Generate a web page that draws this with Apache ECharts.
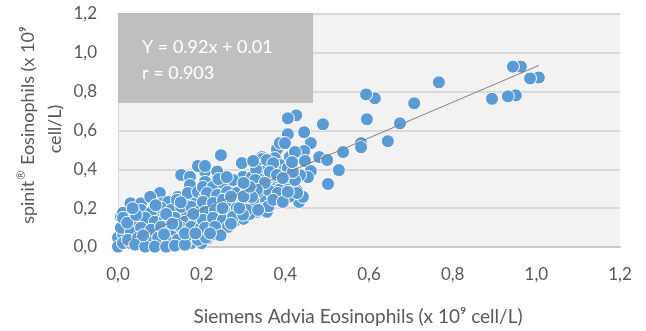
<!DOCTYPE html>
<html>
<head>
<meta charset="utf-8">
<script src="https://cdn.jsdelivr.net/npm/echarts@6/dist/echarts.min.js"></script>
<style>
html,body{margin:0;padding:0;background:#fff;}
#c{width:646px;height:331px;}
</style>
</head>
<body>
<div id="c"></div>
<script>
// Siemens Advia eosinophils (x) vs spinit eosinophils (y), x 10^9 cell/L
const adviaX = [
1.006,0.985,0.963,0.944,0.951,0.932,0.894,0.767,0.708,0.674,0.645,0.614,0.593,0.595,0.581,0.581,0.538,0.528,0.502,0.490,
0.461,0.445,0.426,0.406,0.406,0.392,0.380,0.445,0.481,0.500,0.447,0.461,0.454,0.435,0.406,0.428,0.433,0.442,0.409,0.385,
0.382,0.335,0.351,0.328,0.332,0.356,0.387,0.399,0.375,0.411,0.246,0.296,0.344,0.208,0.237,0.299,0.363,0.387,0.213,0.151,
0.172,0.191,0.208,0.100,0.076,0.007,0.000,0.000,
0.012,0.036,0.085,0.135,0.210,0.020,0.043,0.067,0.090,0.165,0.190,0.215,0.240,0.025,0.067,0.090,0.140,0.165,0.190,0.225,
0.030,0.055,0.090,0.105,0.130,0.165,0.185,0.225,0.245,0.012,0.030,0.055,0.080,0.105,0.130,0.150,0.175,0.200,
0.225,0.240,0.255,0.280,0.290,0.265,0.240,0.220,0.245,0.270,0.295,0.310,0.285,0.260,0.235,0.220,0.310,0.330,0.345,0.370,
0.390,0.410,0.360,0.320,0.300,0.315,0.340,0.365,0.390,0.410,0.345,0.370,0.395,0.320,0.350,0.330,
0.172,0.208,0.077,0.120,0.143,0.167,0.191,0.208,0.012,0.055,0.079,0.103,0.127,0.151,0.175,0.198,0.031,0.065,0.088,0.112,
0.136,0.160,0.184,0.208,0.007,0.031,0.055,0.079,0.103,0.127,0.151,0.175,0.198,0.024,0.048,0.072,0.096,0.120,0.143,0.167,
0.191,0.210,0.041,0.065,0.088,0.115,0.136,0.160,0.012,0.022,0.141,0.268,0.261,
0.423,0.203,0.227,0.251,0.275,0.332,0.356,0.380,0.404,0.423,0.418,0.213,0.237,0.261,0.284,0.308,0.335,0.359,0.382,0.428,
0.203,0.227,0.251,0.275,0.299,0.323,0.371,0.394,0.208,0.232,0.256,0.284,0.308,0.335,0.203,0.227,0.251,0.275,0.299,0.208,
0.232,0.263,
0.344,0.356,0.371,0.363,0.380,0.406,0.418,0.328,0.351,0.406,0.332,0.320,0.394,0.416,0.323,
0.043,0.090,0.115,0.140,0.060,0.110,0.160,0.185,0.035,0.130,0.180,0.150,0.245,0.220,0.250,0.270,0.290,0.300,0.315,0.270,
0.240,0.260,0.300
];
const spinitY = [
0.873,0.868,0.929,0.929,0.781,0.776,0.763,0.848,0.740,0.637,0.545,0.766,0.786,0.658,0.535,0.514,0.489,0.396,0.325,0.632,
0.535,0.591,0.678,0.663,0.581,0.535,0.504,0.494,0.463,0.448,0.443,0.391,0.360,0.370,0.294,0.289,0.232,0.258,0.463,0.417,
0.309,0.345,0.232,0.243,0.181,0.181,0.535,0.535,0.458,0.463,0.473,0.432,0.463,0.389,0.389,0.361,0.412,0.422,0.043,0.371,
0.361,0.417,0.417,0.278,0.258,0.155,0.048,0.002,
0.065,0.065,0.065,0.065,0.065,0.117,0.117,0.117,0.117,0.117,0.117,0.117,0.117,0.165,0.165,0.165,0.165,0.165,0.165,0.165,
0.225,0.225,0.225,0.225,0.225,0.225,0.225,0.225,0.225,0.020,0.020,0.020,0.020,0.020,0.020,0.020,0.020,0.020,
0.065,0.085,0.125,0.135,0.175,0.165,0.170,0.210,0.215,0.215,0.215,0.230,0.255,0.260,0.250,0.245,0.265,0.215,0.260,0.270,
0.255,0.260,0.210,0.210,0.145,0.170,0.310,0.320,0.330,0.320,0.375,0.350,0.390,0.360,0.410,0.400,
0.319,0.335,0.258,0.232,0.258,0.278,0.284,0.258,0.176,0.191,0.176,0.202,0.191,0.207,0.207,0.191,0.130,0.150,0.130,0.140,
0.150,0.130,0.140,0.155,0.099,0.078,0.099,0.089,0.104,0.089,0.099,0.104,0.099,0.037,0.048,0.027,0.048,0.027,0.037,0.037,
0.037,0.048,0.012,0.002,0.002,0.002,0.007,0.012,0.150,0.125,0.243,0.309,0.104,
0.489,0.309,0.309,0.330,0.345,0.330,0.345,0.361,0.361,0.345,0.396,0.278,0.268,0.284,0.278,0.294,0.284,0.294,0.278,0.278,
0.232,0.227,0.243,0.232,0.232,0.243,0.243,0.232,0.181,0.191,0.181,0.202,0.191,0.191,0.140,0.150,0.140,0.155,0.166,0.099,
0.104,0.104,
0.453,0.448,0.432,0.386,0.371,0.407,0.386,0.345,0.330,0.284,0.294,0.258,0.355,0.437,0.443,
0.165,0.215,0.170,0.115,0.060,0.065,0.070,0.070,0.200,0.120,0.170,0.230,0.060,0.070,0.200,0.120,0.200,0.260,0.310,0.260,
0.350,0.360,0.330
];
// trend line end points (Y = 0.92x + 0.01 over the data range)
const trendX = [0, 1.006];
const trendY = [0.01, 0.935];
const tickLabels = ['0,0','0,2','0,4','0,6','0,8','1,0','1,2'];
const eqText = 'Y = 0.92x + 0.01';
const rText = 'r = 0.903';
const xName = 'Siemens Advia Eosinophils (x 10\u2079 cell/L)';
const yName1a = 'spinit';
const yName1b = '\u00AE';
const yName1c = ' Eosinophils (x 10\u2079';
const yName2 = 'cell/L)';

const points = adviaX.map((x, i) => [x, spinitY[i]]);
const trend = trendX.map((x, i) => [x, trendY[i]]);
const FONT = 'Lato';
const fmt = v => tickLabels[Math.round(v / 0.2)] || '';

const chart = echarts.init(document.getElementById('c'));
chart.setOption({
  animation: false,
  backgroundColor: '#ffffff',
  grid: {left: 118, right: 26, top: 14, bottom: 84, show: true, backgroundColor: '#f2f2f2', borderWidth: 0},
  xAxis: {
    type: 'value', min: 0, max: 1.2, interval: 0.2,
    axisLine: {show: true, onZero: false, lineStyle: {color: '#c9c9c9', width: 2}},
    axisTick: {show: false},
    splitLine: {show: false},
    axisLabel: {formatter: fmt, color: '#595959', fontFamily: FONT, fontSize: 17, margin: 19}
  },
  yAxis: {
    type: 'value', min: 0, max: 1.2, interval: 0.2,
    axisLine: {show: true, lineStyle: {color: '#d9d9d9', width: 1}},
    axisTick: {show: false},
    splitLine: {show: true, lineStyle: {color: '#d9d9d9', width: 2}},
    axisLabel: {formatter: fmt, color: '#595959', fontFamily: FONT, fontSize: 17, margin: 21}
  },
  series: [
    {
      type: 'scatter', data: points, symbol: 'circle', symbolSize: 13,
      itemStyle: {color: '#5b9bd5', borderColor: '#ffffff', borderWidth: 1, opacity: 1},
      z: 2
    },
    {
      type: 'line', data: trend, symbol: 'none',
      lineStyle: {color: '#808080', width: 1}, z: 3, silent: true
    }
  ],
  graphic: [
    {type: 'rect', left: 118, top: 13, shape: {width: 195, height: 90}, style: {fill: '#bfbfbf'}, z: 10},
    {type: 'text', x: 142, y: 47, style: {text: eqText, fill: '#ffffff', font: '18px ' + FONT, textVerticalAlign: 'middle'}, z: 11},
    {type: 'text', x: 142, y: 73, style: {text: rText, fill: '#ffffff', font: '18px ' + FONT, textVerticalAlign: 'middle'}, z: 11},
    {type: 'text', x: 358, y: 317, style: {text: xName, fill: '#595959', font: '19px ' + FONT, textAlign: 'center', textVerticalAlign: 'middle'}, z: 11},
    {type: 'text', x: 26, y: 125, rotation: Math.PI / 2, style: {
      text: '{a|' + yName1a + '}{s|' + yName1b + '}{a|' + yName1c + '}',
      textAlign: 'center', textVerticalAlign: 'middle',
      rich: {
        a: {fill: '#595959', fontFamily: FONT, fontSize: 18, lineHeight: 22, verticalAlign: 'bottom'},
        s: {fill: '#595959', fontFamily: FONT, fontSize: 11, lineHeight: 22, verticalAlign: 'top', padding: [1, 1, 0, 1]}
      }
    }, z: 11},
    {type: 'text', x: 55, y: 129, rotation: Math.PI / 2, style: {text: yName2, fill: '#595959', font: '18px ' + FONT, textAlign: 'center', textVerticalAlign: 'middle'}, z: 11}
  ]
});
</script>
</body>
</html>
